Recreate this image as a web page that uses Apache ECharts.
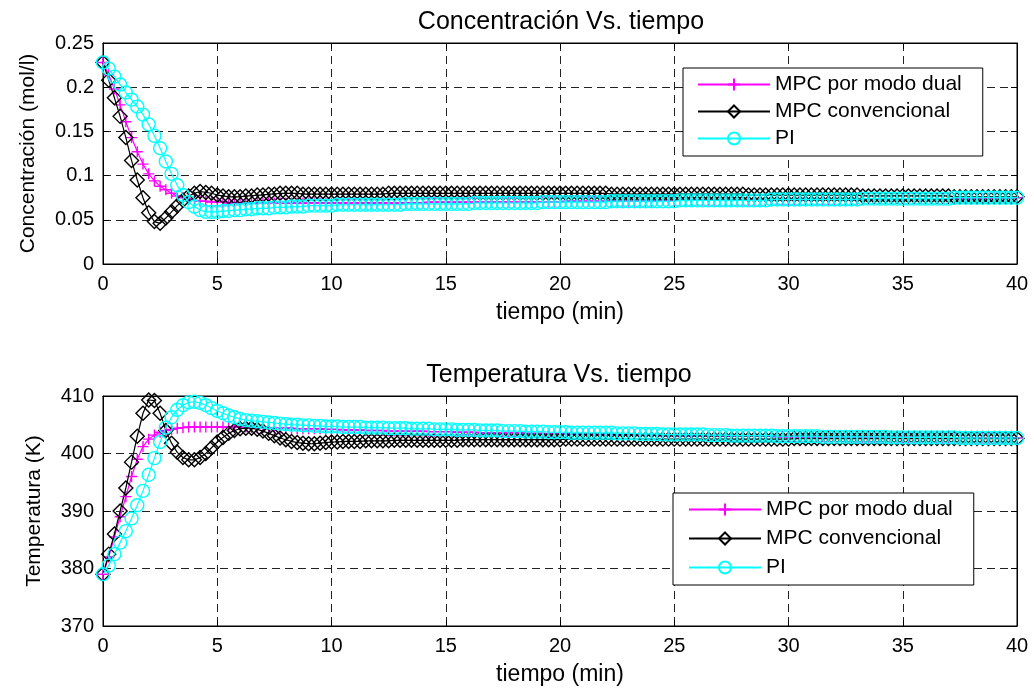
<!DOCTYPE html>
<html>
<head>
<meta charset="utf-8">
<title>Concentración y Temperatura</title>
<script src="https://cdn.jsdelivr.net/npm/echarts@6/dist/echarts.min.js"></script>
<style>
  html, body { margin: 0; padding: 0; background: #fff; }
  #chart { width: 1034px; height: 691px; }
</style>
</head>
<body>
<div id="chart"></div>
<script>
// tiempo (min), muestreo cada 0.25 min
const tiempo = [
  0,0.25,0.5,0.75,1,1.25,1.5,1.75,2,2.25,2.5,2.75,3,3.25,3.5,3.75,4,4.25,4.5,4.75,
  5,5.25,5.5,5.75,6,6.25,6.5,6.75,7,7.25,7.5,7.75,8,8.25,8.5,8.75,9,9.25,9.5,9.75,
  10,10.25,10.5,10.75,11,11.25,11.5,11.75,12,12.25,12.5,12.75,13,13.25,13.5,13.75,14,14.25,14.5,14.75,
  15,15.25,15.5,15.75,16,16.25,16.5,16.75,17,17.25,17.5,17.75,18,18.25,18.5,18.75,19,19.25,19.5,19.75,
  20,20.25,20.5,20.75,21,21.25,21.5,21.75,22,22.25,22.5,22.75,23,23.25,23.5,23.75,24,24.25,24.5,24.75,
  25,25.25,25.5,25.75,26,26.25,26.5,26.75,27,27.25,27.5,27.75,28,28.25,28.5,28.75,29,29.25,29.5,29.75,
  30,30.25,30.5,30.75,31,31.25,31.5,31.75,32,32.25,32.5,32.75,33,33.25,33.5,33.75,34,34.25,34.5,34.75,
  35,35.25,35.5,35.75,36,36.25,36.5,36.75,37,37.25,37.5,37.75,38,38.25,38.5,38.75,39,39.25,39.5,39.75,
  40
];

const nombres = ['MPC por modo dual', 'MPC convencional', 'PI'];

// Concentración (mol/l)
const concDual = [
  .228,.214,.198,.180,.161,.143,.127,.113,.102,.094,.088,.084,.080,.077,.075,.074,.072,.071,.071,.070,
  .070,.070,.069,.069,.069,.069,.069,.069,.069,.069,.069,.069,.069,.069,.069,.069,.069,.069,.069,.069,
  .069,.069,.069,.069,.069,.069,.069,.069,.069,.069,.069,.069,.069,.069,.069,.069,.069,.070,.070,.070,
  .070,.070,.070,.070,.070,.070,.070,.070,.070,.070,.070,.070,.070,.070,.070,.070,.070,.070,.070,.070,
  .070,.071,.071,.071,.071,.071,.071,.071,.071,.071,.071,.071,.071,.071,.071,.071,.071,.072,.072,.072,
  .072,.072,.072,.072,.072,.072,.072,.072,.072,.072,.072,.072,.072,.072,.072,.072,.072,.073,.073,.073,
  .073,.073,.073,.073,.073,.073,.073,.073,.073,.073,.073,.073,.073,.073,.074,.074,.074,.074,.074,.074,
  .074,.074,.074,.074,.074,.074,.074,.074,.074,.074,.074,.074,.074,.074,.074,.074,.075,.075,.075,.075,
  .075
];
const concConv = [
  .228,.208,.188,.167,.143,.117,.095,.075,.058,.048,.046,.052,.059,.066,.072,.077,.080,.082,.081,.080,
  .078,.077,.076,.076,.076,.077,.077,.078,.078,.079,.079,.080,.080,.080,.080,.079,.079,.079,.079,.079,
  .079,.079,.079,.079,.079,.079,.079,.079,.079,.079,.080,.080,.080,.080,.080,.080,.080,.080,.080,.080,
  .080,.080,.080,.080,.080,.080,.080,.080,.080,.080,.080,.080,.080,.080,.080,.080,.080,.080,.080,.080,
  .080,.080,.080,.080,.080,.080,.080,.080,.080,.079,.079,.079,.079,.079,.079,.079,.079,.079,.079,.079,
  .079,.079,.079,.079,.079,.079,.079,.079,.079,.079,.079,.079,.079,.078,.078,.078,.078,.078,.078,.078,
  .078,.078,.078,.078,.078,.078,.078,.078,.078,.078,.078,.078,.078,.077,.077,.077,.077,.077,.077,.077,
  .077,.077,.077,.077,.077,.077,.077,.077,.077,.076,.076,.076,.076,.076,.076,.076,.076,.076,.076,.076,
  .076
];
const concPI = [
  .228,.221,.212,.203,.194,.186,.178,.169,.158,.145,.131,.116,.102,.089,.078,.070,.065,.061,.059,.059,
  .059,.060,.060,.061,.061,.062,.062,.063,.063,.063,.064,.064,.064,.065,.065,.065,.066,.066,.066,.066,
  .066,.067,.067,.067,.067,.067,.067,.067,.067,.067,.067,.067,.067,.068,.068,.068,.068,.068,.068,.068,
  .068,.068,.068,.068,.068,.069,.069,.069,.069,.069,.069,.069,.069,.069,.069,.069,.069,.070,.070,.070,
  .070,.070,.070,.070,.070,.070,.070,.070,.070,.071,.071,.071,.071,.071,.071,.071,.071,.071,.071,.071,
  .071,.072,.072,.072,.072,.072,.072,.072,.072,.072,.072,.072,.072,.072,.072,.072,.072,.073,.073,.073,
  .073,.073,.073,.073,.073,.073,.073,.073,.073,.073,.073,.073,.073,.074,.074,.074,.074,.074,.074,.074,
  .074,.074,.074,.074,.074,.074,.074,.074,.074,.075,.075,.075,.075,.075,.075,.075,.075,.075,.075,.075,
  .075
];

// Temperatura (K)
const tempDual = [
  379,382,385.5,389,392.5,396,399,401.2,402.5,403.2,403.7,404,404.2,404.4,404.5,404.6,404.6,404.6,404.6,404.6,
  404.6,404.6,404.6,404.6,404.6,404.6,404.5,404.5,404.5,404.5,404.4,404.4,404.4,404.4,404.3,404.3,404.3,404.3,404.3,404.2,
  404.2,404.2,404.1,404.1,404.1,404.1,404.0,404.0,404.0,404.0,403.9,403.9,403.9,403.9,403.9,403.9,403.9,403.8,403.8,403.8,
  403.8,403.8,403.7,403.7,403.7,403.7,403.6,403.6,403.6,403.6,403.6,403.6,403.6,403.6,403.5,403.5,403.5,403.5,403.4,403.4,
  403.4,403.4,403.4,403.4,403.4,403.4,403.3,403.3,403.3,403.3,403.3,403.3,403.3,403.3,403.2,403.2,403.2,403.2,403.1,403.1,
  403.1,403.1,403.1,403.1,403.1,403.1,403.0,403.0,403.0,403.0,403.0,403.0,403.0,403.0,403.0,403.0,403.0,403.0,402.9,402.9,
  402.9,402.9,402.9,402.9,402.9,402.9,402.9,402.9,402.9,402.9,402.8,402.8,402.8,402.8,402.8,402.8,402.8,402.8,402.8,402.8,
  402.8,402.8,402.8,402.8,402.8,402.8,402.7,402.7,402.7,402.7,402.7,402.7,402.7,402.7,402.7,402.7,402.7,402.7,402.7,402.7,
  402.7
];
const tempConv = [
  379,382.5,386,390,394,398.5,403,407,409.3,409.2,407,404,401.8,400.2,399.3,398.9,398.9,399.3,400,401,
  402,402.8,403.5,404,404.3,404.4,404.4,404.2,403.9,403.5,403.1,402.7,402.4,402.1,401.9,401.8,401.7,401.7,401.8,401.9,
  402.0,402.0,402.1,402.1,402.1,402.1,402.2,402.2,402.2,402.2,402.2,402.3,402.3,402.3,402.3,402.3,402.3,402.3,402.3,402.3,
  402.3,402.3,402.3,402.4,402.4,402.4,402.4,402.4,402.4,402.4,402.4,402.4,402.4,402.4,402.4,402.4,402.4,402.4,402.4,402.4,
  402.4,402.5,402.5,402.5,402.5,402.5,402.5,402.5,402.5,402.5,402.5,402.5,402.5,402.5,402.5,402.5,402.5,402.5,402.5,402.5,
  402.5,402.5,402.5,402.5,402.5,402.5,402.5,402.5,402.5,402.5,402.5,402.5,402.5,402.5,402.5,402.5,402.5,402.5,402.5,402.5,
  402.5,402.6,402.6,402.6,402.6,402.6,402.6,402.6,402.6,402.6,402.6,402.6,402.6,402.6,402.6,402.6,402.6,402.6,402.6,402.6,
  402.6,402.6,402.6,402.6,402.6,402.6,402.6,402.6,402.6,402.6,402.6,402.6,402.6,402.6,402.6,402.6,402.6,402.6,402.6,402.6,
  402.6
];
const tempPI = [
  379,380.5,382.5,384.5,386.5,388.7,391,393.5,396.3,399.2,402,404.5,406.3,407.6,408.4,408.9,409.0,408.8,408.4,407.9,
  407.4,407.0,406.6,406.3,406.0,405.8,405.7,405.6,405.5,405.4,405.3,405.2,405.1,405.0,405.0,404.9,404.9,404.8,404.8,404.7,
  404.7,404.7,404.6,404.6,404.6,404.6,404.5,404.5,404.5,404.5,404.4,404.4,404.4,404.4,404.3,404.3,404.3,404.3,404.2,404.2,
  404.2,404.2,404.1,404.1,404.1,404.1,404.0,404.0,404.0,404.0,403.9,403.9,403.9,403.9,403.8,403.8,403.8,403.8,403.7,403.7,
  403.7,403.7,403.6,403.6,403.6,403.6,403.6,403.6,403.6,403.6,403.5,403.5,403.5,403.5,403.4,403.4,403.4,403.4,403.3,403.3,
  403.3,403.3,403.3,403.3,403.3,403.3,403.2,403.2,403.2,403.2,403.1,403.1,403.1,403.1,403.1,403.1,403.1,403.1,403.0,403.0,
  403.0,403.0,403.0,403.0,403.0,403.0,402.9,402.9,402.9,402.9,402.9,402.9,402.9,402.9,402.9,402.9,402.9,402.9,402.8,402.8,
  402.8,402.8,402.8,402.8,402.8,402.8,402.8,402.8,402.8,402.8,402.7,402.7,402.7,402.7,402.7,402.7,402.7,402.7,402.7,402.7,
  402.7
];

const xTicks = { min: 0, max: 40, interval: 5 };
const concTicks = { min: 0, max: 0.25, interval: 0.05 };
const tempTicks = { min: 370, max: 410, interval: 10 };

const fuente = 'Liberation Sans, Arial, sans-serif';
const colores = ['#ff00ff', '#000000', '#00ffff'];
const simbolos = ['path://M5,0L5,10M0,5L10,5', 'diamond', 'circle'];
const tamanos = [11, 14, 13];

function par(ys) {
    return tiempo.map((t, i) => [t, ys[i]]);
}

function ejeX(grid, pos, conEtiquetas) {
    return {
        type: 'value', gridIndex: grid, position: pos,
        min: xTicks.min, max: xTicks.max, interval: xTicks.interval,
        name: conEtiquetas ? 'tiempo (min)' : '',
        nameLocation: 'middle', nameGap: 37,
        nameTextStyle: { fontSize: 23, color: '#000', fontFamily: fuente },
        axisLine: { show: true, onZero: false, lineStyle: { color: '#000', width: 1 } },
        axisTick: { show: true, inside: true, length: 6, lineStyle: { color: '#000' } },
        axisLabel: { show: conEtiquetas, fontSize: 20, color: '#000', fontFamily: fuente, margin: 10 },
        splitLine: { show: conEtiquetas, lineStyle: { color: '#222', type: [8, 5], width: 1 } }
    }
}

function ejeY(grid, pos, ticks, nombre, gap, conEtiquetas) {
    return {
        type: 'value', gridIndex: grid, position: pos,
        min: ticks.min, max: ticks.max, interval: ticks.interval,
        name: conEtiquetas ? nombre : '',
        nameLocation: 'middle', nameGap: gap,
        nameTextStyle: { fontSize: 21, color: '#000', fontFamily: fuente },
        axisLine: { show: true, onZero: false, lineStyle: { color: '#000', width: 1 } },
        axisTick: { show: true, inside: true, length: 6, lineStyle: { color: '#000' } },
        axisLabel: { show: conEtiquetas, fontSize: 20, color: '#000', fontFamily: fuente, margin: 9 },
        splitLine: { show: conEtiquetas, lineStyle: { color: '#222', type: [8, 5], width: 1 } }
    }
}

function serie(k, ys, grid) {
    return {
        name: nombres[k],
        type: 'line',
        xAxisIndex: grid, yAxisIndex: grid,
        data: par(ys),
        symbol: simbolos[k],
        symbolSize: tamanos[k],
        symbolKeepAspect: true,
        showSymbol: true,
        showAllSymbol: true,
        lineStyle: { color: colores[k], width: 1.2 },
        itemStyle: { color: 'rgba(0,0,0,0)', borderColor: colores[k], borderWidth: 1.4 },
        emphasis: { disabled: true },
        z: 2 + k
    }
}

function leyenda(left, top, gap, padL) {
    return {
        data: nombres,
        orient: 'vertical',
        left: left, top: top,
        itemWidth: 72, itemHeight: 15, itemGap: gap,
        padding: [6, 21, 7, padL],
        borderColor: '#000', borderWidth: 1, borderRadius: 0,
        backgroundColor: '#fff',
        selectedMode: false,
        textStyle: { fontSize: 21, color: '#000', fontFamily: fuente }
    }
}

const chart = echarts.init(document.getElementById('chart'), null, { renderer: 'canvas' });

chart.setOption({
    animation: false,
    backgroundColor: '#fff',
    title: [
        { text: 'Concentración Vs. tiempo', left: 556, top: 5, textAlign: 'center',
          textStyle: { fontSize: 25, fontWeight: 'normal', color: '#000', fontFamily: fuente } },
        { text: 'Temperatura Vs. tiempo', left: 554, top: 358, textAlign: 'center',
          textStyle: { fontSize: 25, fontWeight: 'normal', color: '#000', fontFamily: fuente } }
    ],
    legend: [
        leyenda(683, 68, 6, 14),
        leyenda(673, 493, 8, 15)
    ],
    grid: [
        { left: 103, top: 43, width: 914, height: 221, show: true, borderColor: '#000', borderWidth: 1, backgroundColor: '#fff' },
        { left: 103, top: 396, width: 914, height: 230, show: true, borderColor: '#000', borderWidth: 1, backgroundColor: '#fff' }
    ],
    xAxis: [
        ejeX(0, 'bottom', true),
        ejeX(1, 'bottom', true),
        ejeX(0, 'top', false),
        ejeX(1, 'top', false)
    ],
    yAxis: [
        ejeY(0, 'left', concTicks, 'Concentración (mol/l)', 64, true),
        ejeY(1, 'left', tempTicks, 'Temperatura (K)', 58, true),
        ejeY(0, 'right', concTicks, '', 0, false),
        ejeY(1, 'right', tempTicks, '', 0, false)
    ],
    series: [
        serie(0, concDual, 0),
        serie(1, concConv, 0),
        serie(2, concPI, 0),
        serie(0, tempDual, 1),
        serie(1, tempConv, 1),
        serie(2, tempPI, 1)
    ]
});
</script>
</body>
</html>
